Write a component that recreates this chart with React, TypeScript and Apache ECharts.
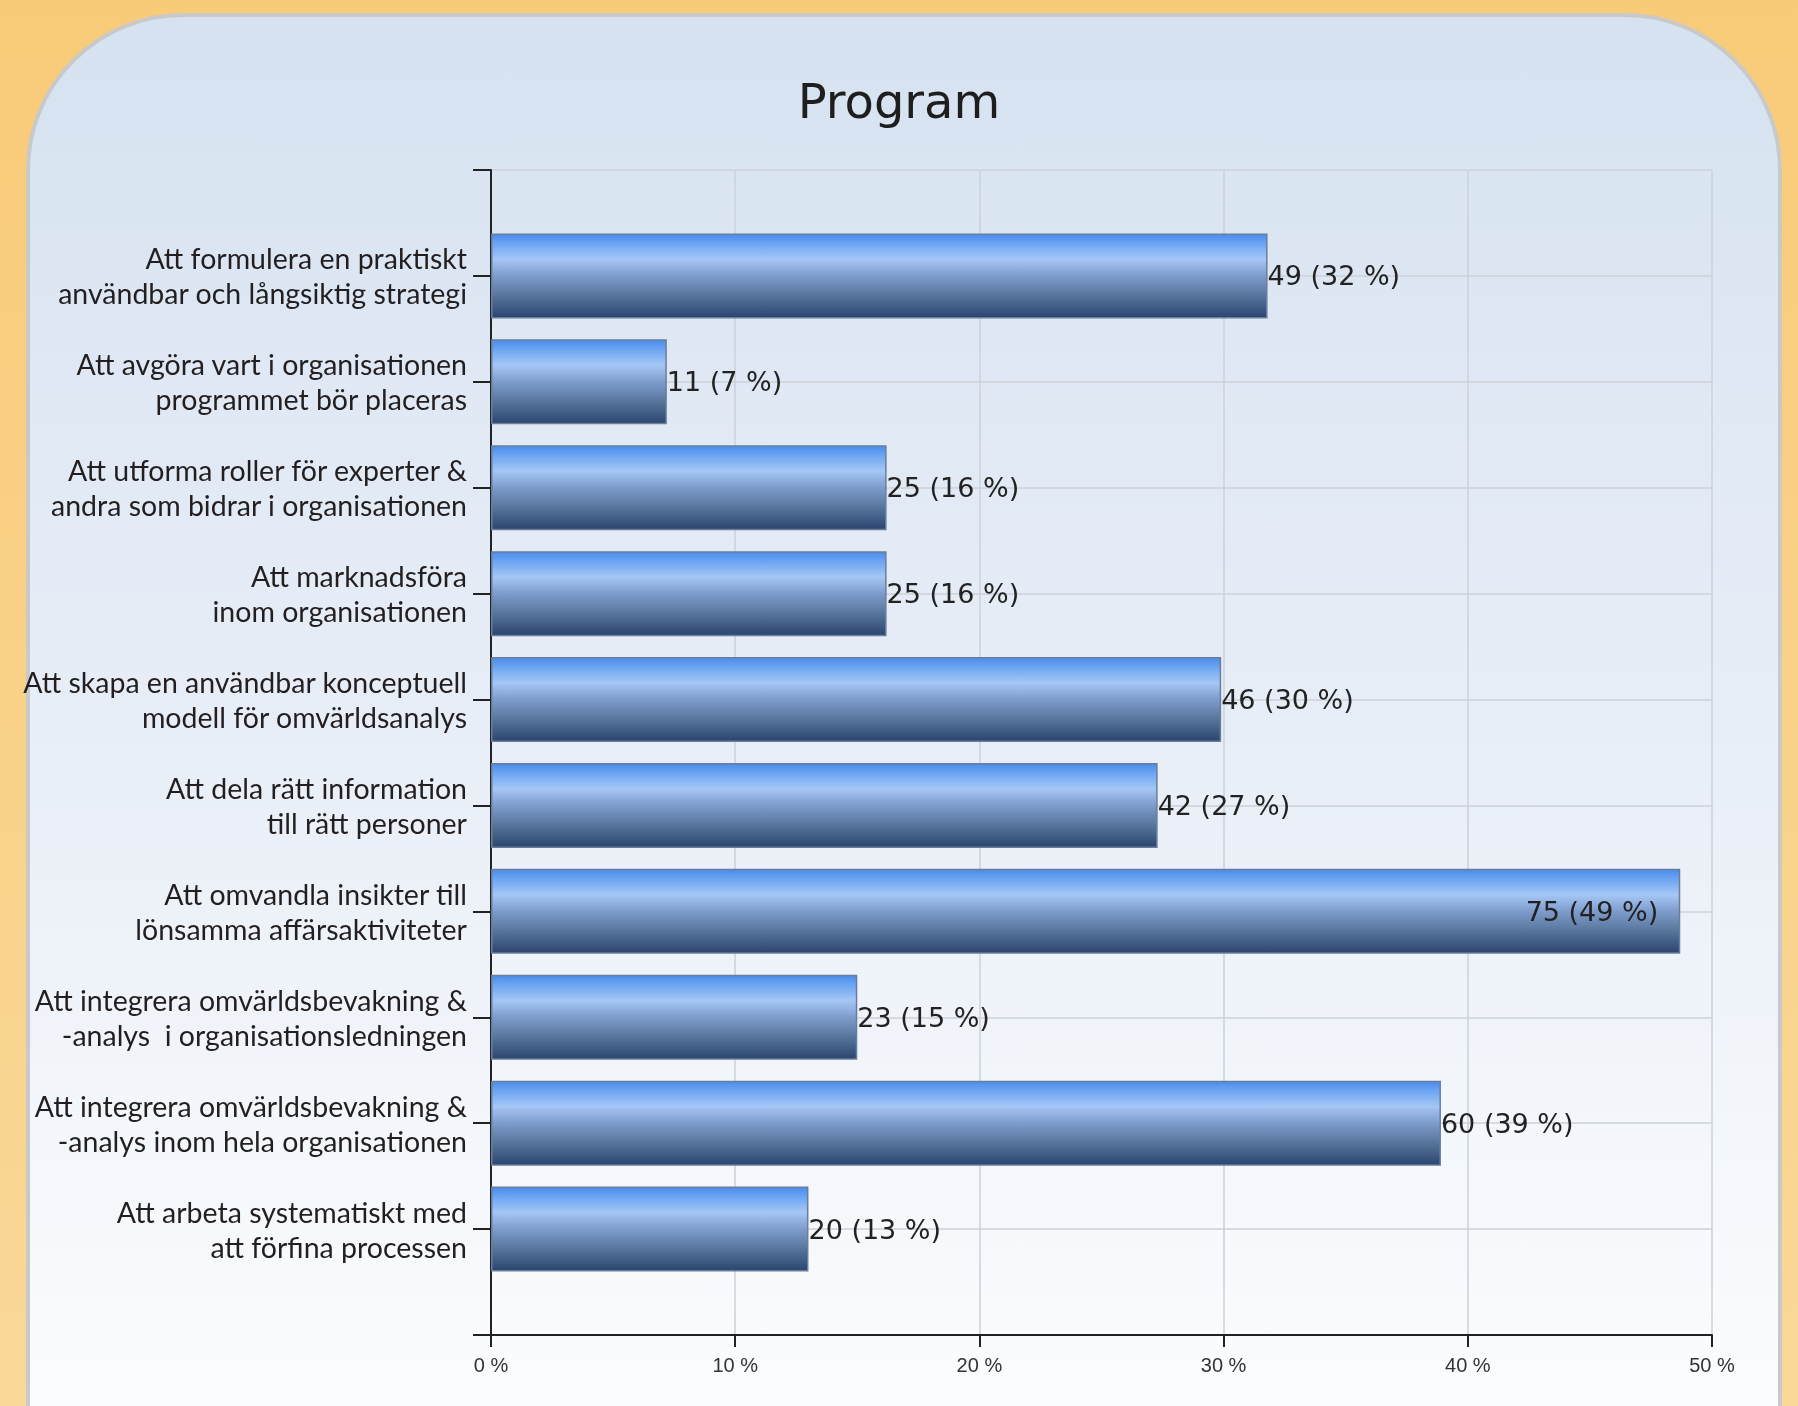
import React, { useEffect, useRef } from "react";
import * as echarts from "echarts";

const categories: string[] = [
  "Att formulera en praktiskt\nanvändbar och långsiktig strategi",
  "Att avgöra vart i organisationen\nprogrammet bör placeras",
  "Att utforma roller för experter &\nandra som bidrar i organisationen",
  "Att marknadsföra\ninom organisationen",
  "Att skapa en användbar konceptuell\nmodell för omvärldsanalys",
  "Att dela rätt information\ntill rätt personer",
  "Att omvandla insikter till\nlönsamma affärsaktiviteter",
  "Att integrera omvärldsbevakning &\n-analys  i organisationsledningen",
  "Att integrera omvärldsbevakning &\n-analys inom hela organisationen",
  "Att arbeta systematiskt med\natt förfina processen",
];
const counts: number[] = [49, 11, 25, 25, 46, 42, 75, 23, 60, 20];
const percentLabels: number[] = [32, 7, 16, 16, 30, 27, 49, 15, 39, 13];
const shares: number[] = [31.8, 7.2, 16.2, 16.2, 29.9, 27.3, 48.7, 15.0, 38.9, 13.0];
const xTicks: number[] = [0, 10, 20, 30, 40, 50];

export default function App() {
  const ref = useRef<HTMLDivElement>(null);
  useEffect(() => {
    if (!ref.current) return;
    const chart = echarts.init(ref.current, undefined, { renderer: "svg" });
    const yCats = ["", ...categories, ""];
    const barData: any[] = ["-"];
    shares.forEach((v, i) => {
      const item: any = { value: v };
      if (i === 6) item.label = { position: "insideRight", distance: 22 };
      barData.push(item);
    });
    barData.push("-");

    const barGradient = new echarts.graphic.LinearGradient(0, 0, 0, 1, [
      { offset: 0, color: "#4A8DEC" },
      { offset: 0.12, color: "#6EA6F2" },
      { offset: 0.3, color: "#A5C7F6" },
      { offset: 0.5, color: "#7E9CCB" },
      { offset: 0.75, color: "#557399" },
      { offset: 1, color: "#2A456F" },
    ]);

    chart.setOption({
      animation: false,
      graphic: {
        elements: [
          {
            type: "rect",
            z: -100,
            silent: true,
            shape: { x: 0, y: 0, width: 1798, height: 1406 },
            style: {
              fill: new echarts.graphic.LinearGradient(0, 0, 0, 1, [
                { offset: 0, color: "#F8CB78" },
                { offset: 1, color: "#FAD898" },
              ]),
            },
          },
          {
            type: "rect",
            z: -99,
            silent: true,
            shape: { x: 28, y: 15, width: 1752, height: 1430, r: [155, 155, 0, 0] },
            style: {
              fill: new echarts.graphic.LinearGradient(0, 0, 0, 1, [
                { offset: 0, color: "#D6E2F1" },
                { offset: 0.5, color: "#E8EEF7" },
                { offset: 1, color: "#FCFDFE" },
              ]),
              stroke: "#C9C9C9",
              lineWidth: 4,
            },
          },
        ],
      },
      title: {
        text: "Program",
        left: "center",
        top: 72,
        textStyle: {
          fontFamily: "DejaVu Sans",
          fontSize: 48,
          fontWeight: "normal",
          color: "#1E1E1E",
        },
      },
      grid: { left: 491, right: 86, top: 170, bottom: 71 },
      xAxis: {
        type: "value",
        min: 0,
        max: 50,
        interval: 10,
        axisLine: { show: true, lineStyle: { color: "#222222", width: 2 } },
        axisTick: { show: true, length: 12, lineStyle: { color: "#222222", width: 2 } },
        axisLabel: {
          margin: 20,
          formatter: (v: number) => (xTicks.includes(v) ? `${v} %` : ""),
          fontFamily: "Liberation Sans Narrow, Liberation Sans",
          fontSize: 20,
          color: "#333333",
        },
        splitLine: { show: true, lineStyle: { color: "#CDD1D8", width: 1.5 } },
      },
      yAxis: {
        type: "category",
        data: yCats,
        inverse: true,
        boundaryGap: false,
        axisLine: { show: true, lineStyle: { color: "#222222", width: 2 } },
        axisTick: { show: true, length: 18, lineStyle: { color: "#222222", width: 2 } },
        axisLabel: {
          margin: 24,
          interval: 0,
          fontFamily: "Lato",
          fontSize: 28.5,
          lineHeight: 35,
          color: "#231F20",
          align: "right",
        },
        splitLine: { show: true, lineStyle: { color: "#CDD1D8", width: 1.5 } },
      },
      series: [
        {
          type: "bar",
          data: barData,
          barWidth: 85,
          itemStyle: { color: barGradient, borderColor: "#6A7E9B", borderWidth: 1.5 },
          label: {
            show: true,
            position: "right",
            distance: 0,
            fontFamily: "DejaVu Sans",
            fontSize: 27,
            color: "#222222",
            formatter: (p: any) => {
              const i = p.dataIndex - 1;
              return `${counts[i]} (${percentLabels[i]} %)`;
            },
          },
        },
      ],
    });
    return () => chart.dispose();
  }, []);
  return (
    <div
      ref={ref}
      style={{ position: "fixed", left: 0, top: 0, width: 1798, height: 1406 }}
    />
  );
}
